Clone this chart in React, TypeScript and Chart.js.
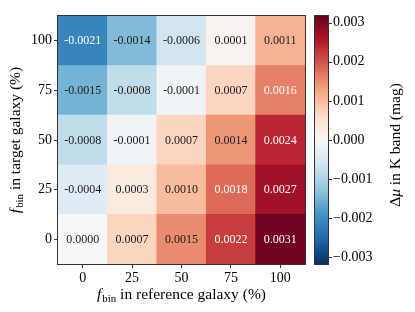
import React, { useEffect, useRef } from "react";
import { Chart, registerables } from "chart.js";

Chart.register(...registerables);

// Categories
const referenceFbin = ["0", "25", "50", "75", "100"]; // x axis (reference galaxy f_bin, %)
const targetFbin = ["0", "25", "50", "75", "100"]; // y axis (target galaxy f_bin, %), bottom to top

// Delta mu in K band (mag), one array per target-galaxy f_bin, columns = reference f_bin
const dmuTarget0 = [0.0, 0.0007, 0.0015, 0.0022, 0.0031];
const dmuTarget25 = [-0.0004, 0.0003, 0.001, 0.0018, 0.0027];
const dmuTarget50 = [-0.0008, -0.0001, 0.0007, 0.0014, 0.0024];
const dmuTarget75 = [-0.0015, -0.0008, -0.0001, 0.0007, 0.0016];
const dmuTarget100 = [-0.0021, -0.0014, -0.0006, 0.0001, 0.0011];
const dmuRows = [dmuTarget0, dmuTarget25, dmuTarget50, dmuTarget75, dmuTarget100];

// Colorbar
const colorbarTicks = [-0.003, -0.002, -0.001, 0, 0.001, 0.002, 0.003];
const colorLimit = 0.00317;

// RdBu_r colormap control points
const RDBU_R = [
  [5, 48, 97],
  [33, 102, 172],
  [67, 147, 195],
  [146, 197, 222],
  [209, 229, 240],
  [247, 247, 247],
  [253, 219, 199],
  [244, 165, 130],
  [214, 96, 77],
  [178, 24, 43],
  [103, 0, 31],
];

function cmap(v: number): string {
  let t = (v + colorLimit) / (2 * colorLimit);
  t = Math.max(0, Math.min(1, t));
  const p = t * (RDBU_R.length - 1);
  const i = Math.min(RDBU_R.length - 2, Math.floor(p));
  const f = p - i;
  const a = RDBU_R[i];
  const b = RDBU_R[i + 1];
  const c = a.map((x, k) => Math.round(x + (b[k] - x) * f));
  return `rgb(${c[0]},${c[1]},${c[2]})`;
}

const SERIF = "'Liberation Serif', 'Times New Roman', serif";
const TICK_FONT = { family: SERIF, size: 14 };
const TITLE_SIZE = 15.5;
const CELL_SIZE = 12;
const FRAME = "#333333";

function zeroPad(s: any) {
  s.paddingTop = 0;
  s.paddingBottom = 0;
  s.paddingLeft = 0;
  s.paddingRight = 0;
}

function drawFbinTitle(ctx: CanvasRenderingContext2D, rest: string) {
  const s = TITLE_SIZE;
  const sub = s * 0.7;
  ctx.font = `italic ${s}px ${SERIF}`;
  const wf = ctx.measureText("f").width;
  ctx.font = `${sub}px ${SERIF}`;
  const wb = ctx.measureText("bin").width;
  ctx.font = `${s}px ${SERIF}`;
  const wr = ctx.measureText(rest).width;
  const total = wf + 1 + wb + wr;
  let x = -total / 2;
  ctx.textBaseline = "alphabetic";
  ctx.textAlign = "left";
  ctx.font = `italic ${s}px ${SERIF}`;
  ctx.fillText("f", x, 0);
  x += wf + 1;
  ctx.font = `${sub}px ${SERIF}`;
  ctx.fillText("bin", x, s * 0.22);
  x += wb;
  ctx.font = `${s}px ${SERIF}`;
  ctx.fillText(rest, x, 0);
}

function drawCbTitle(ctx: CanvasRenderingContext2D) {
  const s = TITLE_SIZE;
  ctx.font = `${s}px ${SERIF}`;
  const wD = ctx.measureText("\u0394").width;
  ctx.font = `italic ${s}px ${SERIF}`;
  const wm = ctx.measureText("\u03bc").width;
  ctx.font = `${s}px ${SERIF}`;
  const rest = " in K band (mag)";
  const wr = ctx.measureText(rest).width;
  const total = wD + wm + wr;
  let x = -total / 2;
  ctx.textBaseline = "alphabetic";
  ctx.textAlign = "left";
  ctx.fillText("\u0394", x, 0);
  x += wD;
  ctx.font = `italic ${s}px ${SERIF}`;
  ctx.fillText("\u03bc", x, 0);
  x += wm;
  ctx.font = `${s}px ${SERIF}`;
  ctx.fillText(rest, x, 0);
}

const heatmapPlugin = {
  id: "heatmapExtras",
  afterDatasetsDraw(chart: any) {
    const ctx = chart.ctx as CanvasRenderingContext2D;
    ctx.save();
    ctx.font = `${CELL_SIZE}px ${SERIF}`;
    ctx.textAlign = "center";
    ctx.textBaseline = "middle";
    chart.data.datasets.forEach((ds: any, di: number) => {
      const meta = chart.getDatasetMeta(di);
      meta.data.forEach((el: any, j: number) => {
        const v = ds.dmu[j];
        const y = (el.y + el.base) / 2;
        ctx.fillStyle = Math.abs(v) > colorLimit * 0.5 ? "#ffffff" : "#1a1a1a";
        ctx.fillText(v.toFixed(4), el.x, y + 0.5);
      });
    });
    ctx.restore();
  },
  afterDraw(chart: any) {
    const ctx = chart.ctx as CanvasRenderingContext2D;
    const a = chart.chartArea;
    ctx.save();
    ctx.strokeStyle = FRAME;
    ctx.lineWidth = 1;
    ctx.strokeRect(Math.round(a.left) - 0.5, Math.round(a.top) - 0.5, Math.round(a.right - a.left) + 1, Math.round(a.bottom - a.top) + 1);

    // colorbar
    const cb = chart.scales.cb;
    const yTop = cb.getPixelForValue(colorLimit);
    const yBot = cb.getPixelForValue(-colorLimit);
    const x0 = Math.round(a.right) + 10;
    const w = 13;
    const g = ctx.createLinearGradient(0, yBot, 0, yTop);
    RDBU_R.forEach((c, i) => g.addColorStop(i / (RDBU_R.length - 1), `rgb(${c[0]},${c[1]},${c[2]})`));
    ctx.fillStyle = g;
    ctx.fillRect(x0, yTop, w, yBot - yTop);
    ctx.strokeStyle = FRAME;
    ctx.strokeRect(x0 - 0.5, Math.round(yTop) - 0.5, w + 1, Math.round(yBot - yTop) + 1);
    ctx.beginPath();
    colorbarTicks.forEach((t) => {
      const y = Math.round(cb.getPixelForValue(t)) + 0.5;
      ctx.moveTo(x0 + w, y);
      ctx.lineTo(x0 + w + 4, y);
    });
    ctx.stroke();

    // titles
    ctx.fillStyle = "#000";
    ctx.save();
    ctx.translate((a.left + a.right) / 2, 299);
    drawFbinTitle(ctx, " in reference galaxy (%)");
    ctx.restore();

    ctx.save();
    ctx.translate(20, (a.top + a.bottom) / 2);
    ctx.rotate(-Math.PI / 2);
    drawFbinTitle(ctx, " in target galaxy (%)");
    ctx.restore();

    ctx.save();
    ctx.translate(400, (a.top + a.bottom) / 2 + 5);
    ctx.rotate(-Math.PI / 2);
    drawCbTitle(ctx);
    ctx.restore();

    ctx.restore();
  },
};

export default function App() {
  const ref = useRef<HTMLCanvasElement | null>(null);

  useEffect(() => {
    if (!ref.current) return;
    const datasets = dmuRows.map((vals, i) => ({
      label: targetFbin[i],
      data: vals.map(() => 1),
      dmu: vals,
      backgroundColor: vals.map((v) => cmap(v)),
      borderWidth: 0,
      barPercentage: 1,
      categoryPercentage: 1,
      xAxisID: "x",
      yAxisID: "y",
    }));

    const chart = new Chart(ref.current, {
      type: "bar",
      data: { labels: referenceFbin, datasets: datasets as any },
      options: {
        animation: false,
        responsive: false,
        maintainAspectRatio: false,
        devicePixelRatio: 1,
        layout: { padding: { top: 16, left: 0, right: 0, bottom: 0 } },
        plugins: { legend: { display: false }, tooltip: { enabled: false } },
        scales: {
          x: {
            stacked: true,
            offset: true,
            grid: { offset: false, drawOnChartArea: false, tickLength: 4, color: FRAME },
            border: { display: false },
            ticks: { font: TICK_FONT, color: "#000", padding: 2 },
            afterFit: (s: any) => {
              s.height = 48;
              zeroPad(s);
            },
          },
          y: {
            stacked: true,
            min: 0,
            max: 5,
            grid: { drawOnChartArea: false, tickLength: 4, color: FRAME },
            border: { display: false },
            afterBuildTicks: (s: any) => {
              s.ticks = targetFbin.map((_, i) => ({ value: i + 0.5 }));
            },
            ticks: {
              font: TICK_FONT,
              color: "#000",
              padding: 2,
              callback: (v: any) => targetFbin[Math.round(Number(v) - 0.5)],
            },
            afterFit: (s: any) => {
              s.width = 58;
              zeroPad(s);
            },
          },
          cb: {
            type: "linear",
            position: "right",
            min: -colorLimit,
            max: colorLimit,
            grid: { display: false, drawTicks: false, tickLength: 0 },
            border: { display: false },
            afterBuildTicks: (s: any) => {
              s.ticks = colorbarTicks.map((v) => ({ value: v }));
            },
            ticks: {
              font: TICK_FONT,
              color: "#000",
              padding: 28,
              callback: (v: any) => {
                const n = Number(v);
                return (n < 0 ? "\u2212" : "") + Math.abs(n).toFixed(3);
              },
            },
            afterFit: (s: any) => {
              s.width = 110;
              zeroPad(s);
            },
          },
        } as any,
      },
      plugins: [heatmapPlugin],
    });
    return () => chart.destroy();
  }, []);

  return (
    <div style={{ position: "fixed", left: 0, top: 0, width: 415, height: 312, background: "#fff" }}>
      <canvas ref={ref} width={415} height={312} style={{ display: "block", width: 415, height: 312 }} />
    </div>
  );
}
